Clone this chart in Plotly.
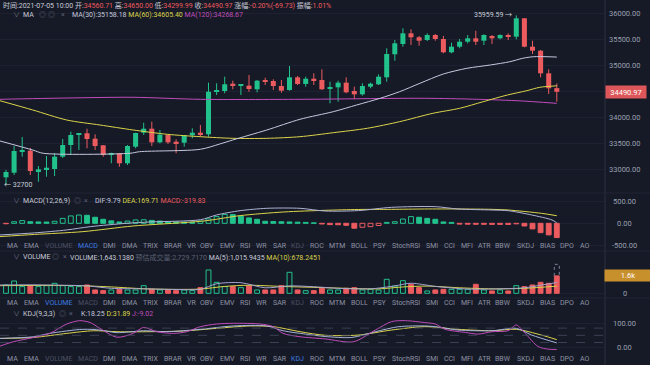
import plotly.graph_objects as go

# ---------------- data ----------------
opens = [32846, 32935, 33339, 33358, 32967, 33000, 33006, 33243, 33467, 33660,
         33693, 33589, 33462, 33281, 33308, 33116, 33435, 33704, 33781, 33519,
         33660, 33531, 33512, 33654, 33704, 33673, 34487, 34506, 34646, 34608,
         34608, 34539, 34712, 34698, 34602, 34525, 34769, 34641, 34742, 34717,
         34550, 34577, 34666, 34506, 34442, 34589, 34635, 34769, 35212, 35410,
         35615, 35539, 35487, 35583, 35506, 35250, 35358, 35454, 35519, 35473,
         35564, 35519, 35583, 35550, 35904, 35358, 35281, 34846, 34560.71]
highs = [32987, 33448, 33621, 33410, 33064, 33256, 33314, 33583, 33723, 33685,
         33781, 33673, 33462, 33320, 33308, 33467, 33704, 33896, 33916, 33756,
         33666, 33577, 33660, 33789, 33852, 34666, 34654, 34781, 34704, 34627,
         34814, 34717, 34762, 34731, 34717, 34987, 34794, 34781, 34846, 34923,
         34685, 34704, 34769, 34589, 34654, 34666, 34827, 35327, 35487, 35712,
         35692, 35564, 35615, 35602, 35564, 35435, 35506, 35583, 35665, 35596,
         35583, 35596, 35615, 35959.59, 35904, 35473, 35294, 34923, 34650.00]
lows = [32700, 32891, 33243, 32891, 32762, 32858, 32871, 33217, 33275, 33371,
        33404, 33371, 33243, 33116, 33050, 33083, 33404, 33660, 33448, 33500,
        33487, 33308, 33435, 33596, 33627, 33627, 34429, 34462, 34539, 34429,
        34492, 34481, 34621, 34525, 34473, 34512, 34621, 34589, 34621, 34525,
        34269, 34300, 34462, 34346, 34416, 34558, 34621, 34685, 35089, 35358,
        35390, 35377, 35467, 35473, 35231, 35231, 35327, 35423, 35390, 35390,
        35410, 35500, 35487, 35500, 35346, 35217, 34769, 34448, 34299.99]
closes = [32948, 33352, 33371, 32967, 33000, 33031, 33243, 33467, 33660, 33685,
          33583, 33448, 33275, 33308, 33116, 33448, 33698, 33781, 33519, 33666,
          33519, 33500, 33654, 33704, 33666, 34492, 34525, 34635, 34615, 34627,
          34544, 34704, 34685, 34602, 34512, 34769, 34641, 34742, 34704, 34539,
          34577, 34666, 34481, 34442, 34602, 34646, 34781, 35217, 35423, 35615,
          35539, 35473, 35583, 35506, 35250, 35358, 35454, 35519, 35454, 35583,
          35519, 35583, 35550, 35904, 35358, 35281, 34846, 34558, 34490.97]

# moving averages on price: (candle index, value)
ma30_k = [-0.74, 3.3, 4.6, 15.3, 16.5, 24, 26.4, 28, 32.2, 36.3, 40.4, 43.3, 46.2,
          48.6, 51.1, 54, 56.9, 59.8, 62.2, 63.8, 65.1, 66.8, 68]
ma30_v = [33545, 33371, 33308, 33308, 33339, 33385, 33487, 33564, 33756, 33962, 34108,
          34237, 34366, 34493, 34654, 34833, 34942, 35006, 35069, 35135, 35165, 35165, 35158.18]
ma60_k = [-0.74, 3.3, 7.5, 11.6, 15.7, 19.9, 24, 28, 32.2, 36.3, 40.4, 44.6, 48.6,
          52.7, 56, 58.9, 61.9, 64.3, 65.9, 68]
ma60_v = [34319, 34141, 33948, 33852, 33756, 33673, 33627, 33596, 33596, 33627, 33704,
          33789, 33916, 34077, 34173, 34300, 34429, 34512, 34577, 34605.40]
ma120_k = [-0.74, 7.5, 15.7, 24, 36.3, 51.1, 56.9, 63.1, 68]
ma120_v = [34346, 34371, 34385, 34346, 34346, 34366, 34352, 34319, 34268.67]

# MACD histogram, one per candle
macd_hist = [-10, 35, 60, 35, 30, 28, 45, 110, 165, 185,
             180, 135, 90, 55, 30, 50, 75, 80, 65, 50,
             35, 30, 28, 25, 50, 100, 150, 200, 195, 160,
             120, 90, 45, 40, 35, 30, 25, 20, 10, -15,
             -30, -32, -45, -110, -90, -75, -50, 20, 35, 95,
             150, 135, 110, 90, 30, 20, -18, -20, -22, -22,
             -24, -24, -25, -12, -60, -125, -210, -260, -319.83]
dif_k = [-0.74, 3.5, 7.5, 10.4, 14.9, 17.8, 24, 26, 28.9, 32.2, 36.3, 39.4, 43.5,
         47.6, 53, 55.8, 60, 62, 64.9, 67.4, 68]
dif_v = [-261, -215, -149, -75, 0, 30, 80, 187, 283, 336, 336, 275, 285,
         358, 373, 321, 298, 283, 187, 75, 9.79]
dea_k = [-0.74, 3.5, 9.5, 15.7, 21.9, 24.8, 28.9, 34.3, 39.4, 43.5, 47.6, 51.7,
         55.8, 60, 62, 66.1, 68]
dea_v = [-298, -250, -187, -60, 15, 60, 172, 254, 291, 310, 313, 321,
         321, 313, 298, 224, 169.71]

# volume, one per candle
volume = [785, 1160, 630, 720, 630, 720, 940, 720, 630, 630,
          785, 315, 250, 315, 375, 315, 315, 720, 375, 315,
          315, 250, 315, 250, 535, 2200, 1035, 630, 630, 535,
          690, 315, 315, 315, 720, 1980, 315, 250, 250, 470,
          315, 315, 470, 535, 315, 375, 315, 1320, 690, 1190,
          850, 535, 220, 315, 375, 375, 375, 375, 850, 315,
          220, 315, 220, 720, 630, 785, 1035, 940, 1643.138]
est_volume_last = 2729.717
vma5_k = [-0.74, 3, 7, 10, 13, 17, 21, 24, 26, 29, 32, 35, 38, 41, 45, 48, 50, 53,
          57, 61, 64, 66, 68]
vma5_v = [780, 800, 760, 700, 470, 420, 360, 380, 900, 1000, 520, 700, 620, 470,
          420, 700, 950, 650, 400, 420, 520, 760, 1015.94]
vma10_k = [-0.74, 4, 9, 13, 17, 21, 24, 27, 30, 34, 38, 42, 46, 49, 52, 56, 60, 64, 68]
vma10_v = [720, 740, 720, 600, 430, 370, 400, 650, 760, 650, 560, 470, 420, 600,
           680, 520, 420, 470, 678.25]

# KDJ (sampled)
k_k = [-0.74, 3.4, 5.4, 9.5, 11.6, 13.7, 17, 19.8, 24, 28.1, 32.2, 34.2, 37, 39.4,
       42.7, 45.6, 48.5, 51.7, 53, 55.8, 60, 63, 64.9, 68]
k_v = [37, 44, 58, 75, 72, 61, 69, 65, 75, 89, 89, 69, 55, 45,
       41, 65, 86, 89, 86, 72, 69, 79, 51, 18.25]
d_k = [-0.74, 3.4, 7.5, 10.8, 13.7, 17.8, 21.9, 26, 30.1, 33, 36.3, 39.4, 43.5,
       47.6, 51.7, 55.8, 60, 63, 66.1, 68]
d_v = [37, 41, 58, 69, 65, 65, 68, 79, 89, 86, 65, 50, 51,
       72, 86, 75, 69, 75, 51, 31.89]
j_k = [-0.74, 0.9, 3.4, 5.4, 7.5, 9.1, 10.4, 11.6, 13.7, 15.7, 17, 18.6, 20.7, 22.3,
       24, 26, 28.1, 31.4, 33, 34.2, 36.3, 39.4, 42.9, 45.6, 47.6, 49.3, 51.7, 53,
       54.2, 56.7, 58.3, 60, 62, 63, 64.1, 65.7, 67, 68]
j_v = [5, 23, 41, 58, 97, 111, 103, 79, 42, 58, 83, 65, 58, 65,
       86, 97, 100, 97, 86, 58, 44, 35, 23, 72, 107, 111, 103, 97,
       75, 62, 55, 65, 69, 93, 58, 3, -8, -9.02]

price_ticks = [36000, 35500, 35000, 34500, 34000, 33500, 33000]
macd_ticks = [500, 0, -500]
kdj_ticks = [100, 0]
kdj_levels = [80, 50, 20]
tab_labels = ["MA", "EMA", "VOLUME", "MACD", "DMI", "DMA", "TRIX", "BRAR", "VR", "OBV",
              "EMV", "RSI", "WR", "SAR", "KDJ", "ROC", "MTM", "BOLL", "PSY", "StochRSI",
              "SMI", "CCI", "MFI", "ATR", "BBW", "SKDJ", "BIAS", "DPO", "AO"]

# ---------------- layout constants ----------------
W, H = 650, 365
PW = 605  # plot width in px
tab_centers = [12.5, 31, 58.5, 88, 109.5, 129.5, 150, 172.5, 191.5, 207, 227, 245, 261,
               279.5, 297.5, 316.5, 336.5, 359.5, 380, 406, 432, 449.5, 466.5, 484.5,
               503, 525, 547.5, 567, 585]

BG = '#161a27'
GREEN = '#22c28c'
RED = '#ec5b5e'
GREY_T = '#c8cbd6'
TICK_T = '#9aa0b1'
YEL = '#dcd44a'
MAG = '#c04cba'
LAV = '#c5c8de'
DIM = '#4c5164'
BLUE = '#3d7be0'
TABC = '#8d92a3'
FONT = "Roboto, 'Noto Sans CJK SC', sans-serif"

n = len(opens)
idx = list(range(n))
up = [c >= o for o, c in zip(opens, closes)]


def fy(p):
    return 1 - p / H


def fx(p):
    return p / PW


fig = go.Figure()

# ---- candles ----
body_base = [min(o, c) for o, c in zip(opens, closes)]
body_h = [max(abs(c - o), 12) for o, c in zip(opens, closes)]
fig.add_trace(go.Bar(x=idx, y=body_h, base=body_base, width=0.62,
                     marker=dict(color=[GREEN if u else RED for u in up], line=dict(width=0)),
                     xaxis='x', yaxis='y', hoverinfo='skip'))
for want, col in ((True, GREEN), (False, RED)):
    wx, wy = [], []
    for i in idx:
        if up[i] == want:
            wx += [i, i, None]
            wy += [lows[i], highs[i], None]
    fig.add_trace(go.Scatter(x=wx, y=wy, mode='lines', line=dict(color=col, width=1),
                             xaxis='x', yaxis='y', hoverinfo='skip'))

for kk, vv, col in ((ma120_k, ma120_v, MAG), (ma60_k, ma60_v, YEL), (ma30_k, ma30_v, LAV)):
    fig.add_trace(go.Scatter(x=kk, y=vv, mode='lines',
                             line=dict(color=col, width=1, shape='spline', smoothing=0.8),
                             xaxis='x', yaxis='y', hoverinfo='skip'))

# ---- MACD ----
mfill, mline = [], []
for i, v in enumerate(macd_hist):
    col = GREEN if v >= 0 else RED
    hollow = i > 0 and v > macd_hist[i - 1]
    mfill.append('rgba(0,0,0,0)' if hollow else col)
    mline.append(col)
fig.add_trace(go.Bar(x=idx, y=macd_hist, width=0.6,
                     marker=dict(color=mfill, line=dict(color=mline, width=1)),
                     xaxis='x', yaxis='y2', hoverinfo='skip'))
fig.add_trace(go.Scatter(x=dea_k, y=dea_v, mode='lines',
                         line=dict(color=YEL, width=1, shape='spline', smoothing=0.8),
                         xaxis='x', yaxis='y2', hoverinfo='skip'))
fig.add_trace(go.Scatter(x=dif_k, y=dif_v, mode='lines',
                         line=dict(color='#aeb3d4', width=1, shape='spline', smoothing=0.8),
                         xaxis='x', yaxis='y2', hoverinfo='skip'))

# ---- Volume ----
vfill = ['rgba(0,0,0,0)' if u else RED for u in up]
vline = [GREEN if u else RED for u in up]
fig.add_trace(go.Bar(x=idx, y=volume, width=0.6,
                     marker=dict(color=vfill, line=dict(color=vline, width=1)),
                     xaxis='x', yaxis='y3', hoverinfo='skip'))
last = n - 1
fig.add_trace(go.Scatter(x=[last - 0.31, last - 0.31, last + 0.31, last + 0.31],
                         y=[volume[last], est_volume_last, est_volume_last, volume[last]],
                         mode='lines', line=dict(color='#7d8294', width=1, dash='dot'),
                         xaxis='x', yaxis='y3', hoverinfo='skip'))
fig.add_trace(go.Scatter(x=vma10_k, y=vma10_v, mode='lines',
                         line=dict(color=YEL, width=1, shape='spline', smoothing=0.8),
                         xaxis='x', yaxis='y3', hoverinfo='skip'))
fig.add_trace(go.Scatter(x=vma5_k, y=vma5_v, mode='lines',
                         line=dict(color='#a3a3cf', width=1, shape='spline', smoothing=0.8),
                         xaxis='x', yaxis='y3', hoverinfo='skip'))

# ---- KDJ ----
for kk, vv, col in ((d_k, d_v, YEL), (k_k, k_v, '#a7b2dc'), (j_k, j_v, MAG)):
    fig.add_trace(go.Scatter(x=kk, y=vv, mode='lines',
                             line=dict(color=col, width=1, shape='spline', smoothing=0.8),
                             xaxis='x', yaxis='y4', hoverinfo='skip'))

# ---------------- axes ----------------
GRID = '#1d2132'
fig.update_layout(
    width=W, height=H, margin=dict(l=0, r=W - PW, t=0, b=0),
    paper_bgcolor=BG, plot_bgcolor=BG, showlegend=False, barmode='overlay',
    xaxis=dict(domain=[0, 1], range=[-0.7407, 73.951], showticklabels=False, showgrid=False,
               zeroline=False, showline=False, anchor='y'),
    yaxis=dict(domain=[fy(193), 1], range=[36255.8 - 193 * 19.23, 36255.8], tickvals=price_ticks,
               showticklabels=False, gridcolor=GRID, zeroline=False, anchor='x'),
    yaxis2=dict(domain=[fy(251), fy(193)], range=[(223.3 - 251) * 22.42, (223.3 - 193) * 22.42],
                tickvals=macd_ticks, showticklabels=False, gridcolor=GRID, zeroline=False, anchor='x'),
    yaxis3=dict(domain=[fy(298), fy(251)], range=[(293.3 - 298) * 94.3, (293.3 - 251) * 94.3],
                tickvals=[0], showticklabels=False, gridcolor=GRID, zeroline=False, anchor='x'),
    yaxis4=dict(domain=[0, fy(298)], range=[100 - (365 - 323.3) / 0.24, 100 + (323.3 - 298) / 0.24],
                tickvals=kdj_ticks, showticklabels=False, gridcolor=GRID, zeroline=False, anchor='x'),
)

shapes = []
# right axis separator
shapes.append(dict(type='line', xref='paper', yref='paper', x0=1, x1=1, y0=0, y1=1,
                   line=dict(color='#2a2f41', width=1)))
for yp in (193, 251, 298):
    shapes.append(dict(type='line', xref='paper', yref='paper', x0=0, x1=W / PW, y0=fy(yp), y1=fy(yp),
                       line=dict(color='#202435', width=1)))
for lv in kdj_levels:
    shapes.append(dict(type='line', xref='paper', yref='y4', x0=0, x1=1, y0=lv, y1=lv,
                       line=dict(color='#444a5e', width=0.8, dash='dash')))
fig.update_layout(shapes=shapes)

ann = []


def text(xp, yp, t, col=GREY_T, size=7, anchor='left'):
    ann.append(dict(x=fx(xp), y=fy(yp), xref='paper', yref='paper', text=t, showarrow=False,
                    xanchor=anchor, yanchor='middle', font=dict(family=FONT, size=size, color=col)))


def sp(t, c):
    return f'<span style="color:{c}">{t}</span>'


# header rows
text(1, 5, sp('时间:2021-07-05 10:00 ', GREY_T) + sp('开:', GREY_T) + sp('34560.71 ', RED) +
     sp('高:', GREY_T) + sp('34650.00 ', RED) + sp('低:', GREY_T) + sp('34299.99 ', RED) +
     sp('收:', GREY_T) + sp('34490.97 ', RED) + sp('涨幅:', GREY_T) + sp('-0.20%(-69.73) ', RED) +
     sp('振幅:', GREY_T) + sp('1.01%', RED))


def pane_header(yp, name, name_x_end_icons, vals_x, vals):
    text(11, yp, '∨', '#6b7082', 7)
    text(21, yp, name, GREY_T, 7)
    for xi, ch in name_x_end_icons:
        text(xi, yp, ch, '#5a5f72', 7)
    text(vals_x, yp, vals)


pane_header(15, 'MA', [(37, '◎'), (46, '◎'), (59, '×')], 70,
            sp('MA(30):35158.18 ', LAV) + sp('MA(60):34605.40 ', YEL) + sp('MA(120):34268.67', MAG))
pane_header(201, 'MACD(12,26,9)', [(72, '◎'), (82, '×')], 93,
            sp('DIF:9.79 ', LAV) + sp('DEA:169.71 ', YEL) + sp('MACD:-319.83', RED))
pane_header(257.3, 'VOLUME', [(50, '◎'), (61, '×')], 68,
            sp('VOLUME:1,643.1380 ', GREY_T) + sp('预估成交量:2,729.7170 ', '#5c6173') +
            sp('MA(5):1,015.9435 ', GREY_T) + sp('MA(10):678.2451', YEL))
pane_header(314, 'KDJ(9,3,3)', [(57, '◎'), (67, '×')], 79,
            sp('K:18.25 ', LAV) + sp('D:31.89 ', YEL) + sp('J:-9.02', MAG))

# tab rows
for row_y, active in ((246, 'MACD'), (302.7, 'VOLUME'), (359.3, 'KDJ')):
    for lab, cx in zip(tab_labels, tab_centers):
        if lab == active:
            col = BLUE
        elif lab in ('MACD', 'VOLUME', 'KDJ'):
            col = DIM
        else:
            col = TABC
        text(cx, row_y, lab, col, 7, 'center')

# axis tick labels (centered in the right strip)
AX = fx(625)
for v in price_ticks:
    ann.append(dict(x=AX, y=v, xref='paper', yref='y', text=f'{v:.2f}', showarrow=False,
                    xanchor='center', yanchor='middle', font=dict(family=FONT, size=7.5, color=TICK_T)))
for v in macd_ticks:
    ann.append(dict(x=AX, y=v, xref='paper', yref='y2', text=f'{v:.2f}', showarrow=False,
                    xanchor='center', yanchor='middle', font=dict(family=FONT, size=7.5, color=TICK_T)))
for v, t in ((0, '0'), (2000, '2.0k')):
    ann.append(dict(x=AX, y=v, xref='paper', yref='y3', text=t, showarrow=False,
                    xanchor='center', yanchor='middle', font=dict(family=FONT, size=7.5, color=TICK_T)))
for v in kdj_ticks:
    ann.append(dict(x=AX, y=v, xref='paper', yref='y4', text=f'{v:.2f}', showarrow=False,
                    xanchor='center', yanchor='middle', font=dict(family=FONT, size=7.5, color=TICK_T)))

# last price / last volume boxes
ann.append(dict(x=AX + fx(1), y=closes[-1], xref='paper', yref='y', text=f'{closes[-1]:.2f}',
                showarrow=False, xanchor='center', yanchor='middle', bgcolor='#dd5659',
                width=38, height=10, font=dict(family=FONT, size=7.5, color='#ffffff')))
ann.append(dict(x=fx(627.5), y=volume[-1], xref='paper', yref='y3', text='1.6k',
                showarrow=False, xanchor='center', yanchor='middle', bgcolor='#c8902c',
                width=44, height=9, font=dict(family=FONT, size=7.5, color='#ffffff')))

# extreme markers
imax = max(idx, key=lambda i: highs[i])
imin = min(idx, key=lambda i: lows[i])
ann.append(dict(x=imax, y=highs[imax], xref='x', yref='y', text=f'{highs[imax]:.2f} →',
                showarrow=False, xanchor='right', yanchor='middle', xshift=-2,
                font=dict(family=FONT, size=7, color=GREY_T)))
ann.append(dict(x=imin, y=lows[imin], xref='x', yref='y', text=f'← {lows[imin]:.0f}',
                showarrow=False, xanchor='left', yanchor='middle', xshift=-4,
                font=dict(family=FONT, size=7, color=GREY_T)))

fig.update_layout(annotations=ann)
fig.write_html('out.html', config={'displayModeBar': False},
               post_script="document.body.style.margin='0px';document.body.style.background='%s';" % BG)
